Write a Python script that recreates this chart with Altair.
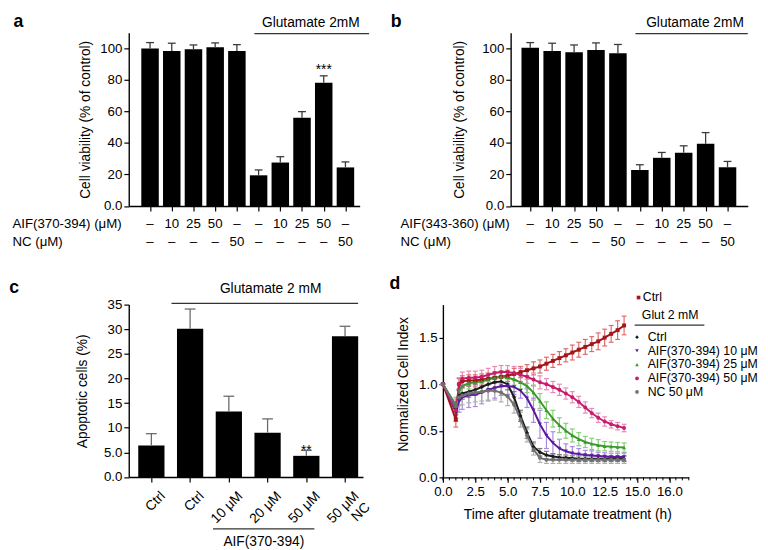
import altair as alt
import pandas as pd

FONT = "Liberation Sans"
SX, SY = 0.99, 0.985


def gx(v):
    return v * SX


def gy(v):
    return v * SY


# ---------------- panel a data ----------------
a_pos = [1, 2, 3, 4, 5, 6, 7, 8, 9, 10]
a_val = [100.0, 98.4, 99.4, 100.8, 98.4, 19.5, 27.6, 56.0, 78.3, 24.5]
a_cap = [103.7, 103.3, 102.2, 103.5, 102.4, 22.9, 31.3, 59.9, 82.6, 28.0]
a_aif = ["–", "10", "25", "50", "–", "–", "10", "25", "50", "–"]
a_nc = ["–", "–", "–", "–", "50", "–", "–", "–", "–", "50"]
a_star_pos = [9]
a_star_cap = [82.6]
a_star_txt = ["***"]

# ---------------- panel b data ----------------
b_pos = [1, 2, 3, 4, 5, 6, 7, 8, 9, 10]
b_val = [100.4, 98.4, 97.5, 99.0, 96.9, 22.8, 30.6, 33.8, 39.5, 24.6]
b_cap = [103.7, 103.3, 102.2, 103.5, 102.5, 26.2, 34.0, 38.2, 46.6, 28.3]
b_aif = ["–", "10", "25", "50", "–", "–", "10", "25", "50", "–"]
b_nc = ["–", "–", "–", "–", "50", "–", "–", "–", "–", "50"]

# ---------------- panel c data ----------------
c_pos = [1, 2, 3, 4, 5, 6]
c_lab = ["Ctrl", "Ctrl", "10 μM", "20 μM", "50 μM", "50 μM\nNC"]
c_val = [6.4, 30.1, 13.3, 9.0, 4.3, 28.6]
c_cap = [8.8, 34.1, 16.4, 11.8, 5.4, 30.6]
c_star_pos = [5]
c_star_cap = [5.4]
c_star_txt = ["**"]

# ---------------- panel d data ----------------
d_time = [0, 1.0, 1.25, 1.5, 2.0, 2.5, 3.0, 3.5, 4.0, 4.5, 5.0, 5.5, 6.0, 6.5, 7.0,
          7.5, 8.0, 8.5, 9.0, 9.5, 10.0, 10.5, 11.0, 11.5, 12.0, 12.5, 13.0, 13.5, 14.0]
d_series = ["Ctrl", "Glut Ctrl", "AIF(370-394) 10 μM", "AIF(370-394) 25 μM",
            "AIF(370-394) 50 μM", "NC 50 μM"]
d_ctrl = [1.0, 0.62, 1.0, 1.03, 1.04, 1.04, 1.05, 1.06, 1.07, 1.08, 1.09, 1.11, 1.13, 1.15, 1.17,
          1.19, 1.22, 1.25, 1.28, 1.31, 1.34, 1.37, 1.40, 1.43, 1.46, 1.50, 1.54, 1.58, 1.63]
d_ctrl_e = [0.0, 0.08, 0.06, 0.06, 0.06, 0.06, 0.06, 0.06, 0.06, 0.06, 0.06, 0.06, 0.06, 0.06, 0.07,
            0.07, 0.07, 0.07, 0.07, 0.07, 0.08, 0.08, 0.08, 0.08, 0.09, 0.09, 0.09, 0.10, 0.10]
d_glut = [1.0, 0.74, 0.88, 0.90, 0.92, 0.94, 0.97, 1.00, 1.02, 1.03, 1.00, 0.86, 0.66, 0.48, 0.33,
          0.27, 0.24, 0.225, 0.215, 0.21, 0.205, 0.20, 0.20, 0.20, 0.20, 0.20, 0.20, 0.20, 0.20]
d_glut_e = [0.0, 0.07, 0.06, 0.06, 0.06, 0.06, 0.06, 0.06, 0.06, 0.06, 0.06, 0.06, 0.06, 0.06, 0.05,
            0.04, 0.04, 0.03, 0.03, 0.03, 0.03, 0.03, 0.03, 0.03, 0.03, 0.03, 0.03, 0.03, 0.03]
d_a10 = [1.0, 0.70, 0.82, 0.86, 0.88, 0.89, 0.91, 0.94, 0.96, 0.98, 0.98, 0.97, 0.93, 0.85, 0.72,
         0.57, 0.45, 0.37, 0.31, 0.28, 0.26, 0.25, 0.24, 0.235, 0.23, 0.225, 0.22, 0.22, 0.22]
d_a10_e = [0.0, 0.10, 0.12, 0.13, 0.13, 0.13, 0.12, 0.12, 0.11, 0.10, 0.09, 0.08, 0.08, 0.10, 0.13,
           0.15, 0.14, 0.12, 0.10, 0.08, 0.07, 0.06, 0.05, 0.05, 0.04, 0.04, 0.04, 0.04, 0.04]
d_a25 = [1.0, 0.78, 0.93, 0.98, 1.01, 1.02, 1.03, 1.05, 1.07, 1.08, 1.07, 1.05, 1.02, 0.98, 0.91,
         0.82, 0.72, 0.63, 0.56, 0.50, 0.45, 0.41, 0.38, 0.36, 0.345, 0.335, 0.33, 0.325, 0.32]
d_a25_e = [0.0, 0.08, 0.07, 0.07, 0.06, 0.06, 0.06, 0.06, 0.06, 0.06, 0.06, 0.06, 0.07, 0.07, 0.08,
           0.08, 0.09, 0.09, 0.08, 0.08, 0.07, 0.07, 0.06, 0.06, 0.06, 0.05, 0.05, 0.05, 0.05]
d_a50 = [1.0, 0.72, 1.0, 1.06, 1.07, 1.07, 1.08, 1.10, 1.12, 1.13, 1.13, 1.12, 1.10, 1.08, 1.05,
         1.02, 1.00, 0.97, 0.94, 0.90, 0.86, 0.81, 0.75, 0.69, 0.64, 0.60, 0.57, 0.55, 0.53]
d_a50_e = [0.0, 0.08, 0.07, 0.07, 0.07, 0.07, 0.07, 0.07, 0.07, 0.07, 0.07, 0.07, 0.07, 0.07, 0.07,
           0.07, 0.06, 0.06, 0.06, 0.06, 0.06, 0.06, 0.06, 0.05, 0.05, 0.05, 0.04, 0.04, 0.04]
d_nc = [1.0, 0.76, 0.86, 0.88, 0.90, 0.91, 0.92, 0.93, 0.93, 0.91, 0.87, 0.78, 0.62, 0.45, 0.30,
        0.21, 0.19, 0.19, 0.19, 0.19, 0.19, 0.19, 0.19, 0.19, 0.19, 0.19, 0.19, 0.19, 0.19]
d_nc_e = [0.0, 0.08, 0.09, 0.10, 0.10, 0.10, 0.10, 0.10, 0.10, 0.10, 0.10, 0.09, 0.08, 0.07, 0.06,
          0.05, 0.04, 0.04, 0.04, 0.04, 0.04, 0.04, 0.04, 0.04, 0.04, 0.04, 0.04, 0.04, 0.04]
d_x_ticks = [0, 2.5, 5, 7.5, 10, 12.5, 15, 17.5]
d_y_ticks = [0, 0.5, 1.0, 1.5]

# ---------------- styles ----------------
D_LINE = ["#a3161a", "#1a1a1a", "#5b1a9e", "#3c9a2d", "#c81c6e", "#707070"]
D_ERR = ["#e06a6a", "#7a7a7a", "#a98ae0", "#86cf74", "#e58cb8", "#b0b0b0"]
D_SHAPE = ["square", "diamond", "triangle-down", "triangle-up", "circle", "circle"]

ONE = pd.DataFrame({"k": [0]})


def rel(pl, pt):
    return (lambda X: round(gx(X) - gx(pl), 2)), (lambda Y: round(gy(Y) - gy(pt), 2))


def anchor(box, rx, ry):
    l, t, r, b = box
    return alt.Chart(ONE).mark_rect(fill="white", opacity=0).encode(
        x=alt.value(rx(l)), x2=alt.value(rx(r)), y=alt.value(ry(t)), y2=alt.value(ry(b)))


def txt(s, X, Y, rx, ry, size=14, align="center", baseline="middle", weight="normal", color="black"):
    return alt.Chart(pd.DataFrame({"t": [s]})).mark_text(
        font=FONT, fontSize=size, align=align, baseline=baseline, fontWeight=weight, color=color
    ).encode(x=alt.value(rx(X)), y=alt.value(ry(Y)), text="t:N")


def hline(X1, X2, Y, rx, ry, color="#333", w=1.2):
    return alt.Chart(ONE).mark_rule(color=color, strokeWidth=w).encode(
        x=alt.value(rx(X1)), x2=alt.value(rx(X2)), y=alt.value(ry(Y)))


def bar_core(df, plot, xdom, bar_w, cap_w, err_color, ydom, yvals, ylabexpr, ytitle, ytitle_X):
    pl, pt, pr, pb = plot
    rx, ry = rel(pl, pt)
    W, H = rx(pr), ry(pb)
    xenc = alt.X("pos:Q", scale=alt.Scale(domain=xdom, nice=False, zero=False),
                 axis=alt.Axis(values=list(df["pos"]), labels=False, title=None, tickSize=5))
    ys = alt.Scale(domain=ydom, nice=False, zero=True)
    yax = alt.Axis(values=yvals, labelExpr=ylabexpr, title=ytitle, titleX=rx(ytitle_X),
                   titleY=H / 2, titleAngle=270, titleBaseline="middle", titleAlign="center",
                   tickSize=5)
    base = alt.Chart(df).encode(x=xenc)
    bars = base.mark_bar(size=bar_w, color="black").encode(y=alt.Y("val:Q", scale=ys, axis=yax))
    err = base.mark_rule(color=err_color, strokeWidth=1.3).encode(
        y=alt.Y("val:Q", scale=ys, axis=yax), y2="cap:Q")
    caps = base.mark_tick(orient="horizontal", color=err_color, thickness=1.3, size=cap_w,
                          opacity=1).encode(y=alt.Y("cap:Q", scale=ys, axis=yax))
    return dict(x=xenc, ys=ys, yax=yax, rx=rx, ry=ry, W=W, H=H, base=base, layers=[bars, err, caps])


ROW_FS = 13.5

# ================= panel a =================
PA_BOX = (0, 0, 384, 262)
PA_PLOT = (120.7, 18, 358.3, 197.3)
dfa = pd.DataFrame({"pos": a_pos, "val": a_val, "cap": a_cap, "aif": a_aif, "nc": a_nc})
A = bar_core(dfa, PA_PLOT, [0.245, 10.43], gx(18), 8, "#3a3a3a", [0, 110],
             [0, 20, 40, 60, 80, 100], "datum.value == 0 ? '0.0' : datum.label",
             "Cell viability (% of control)", 76.7)
rx, ry = A["rx"], A["ry"]
a_row1 = A["base"].mark_text(font=FONT, fontSize=ROW_FS, color="black").encode(
    y=alt.value(ry(216)), text="aif:N")
a_row2 = A["base"].mark_text(font=FONT, fontSize=ROW_FS, color="black").encode(
    y=alt.value(ry(235)), text="nc:N")
a_stars = alt.Chart(pd.DataFrame({"pos": a_star_pos, "cap": a_star_cap, "s": a_star_txt})).mark_text(
    font=FONT, fontSize=14, baseline="alphabetic", dy=-2, color="black").encode(
    x=A["x"], y=alt.Y("cap:Q", scale=A["ys"], axis=A["yax"]), text="s:N")
pa = alt.layer(
    anchor(PA_BOX, rx, ry), *A["layers"], a_row1, a_row2, a_stars,
    txt("AIF(370-394) (μM)", 1, 216, rx, ry, size=ROW_FS, align="left"),
    txt("NC (μM)", 1, 235, rx, ry, size=ROW_FS, align="left"),
    txt("Glutamate 2mM", 308, 8, rx, ry),
    hline(250, 368, 19, rx, ry),
    txt("a", 2, 7, rx, ry, size=18, align="left", weight="bold"),
).properties(width=A["W"], height=A["H"])

# ================= panel b =================
PB_BOX = (384, 0, 768, 262)
PB_PLOT = (512.3, 18, 756.3, 197.3)
dfb = pd.DataFrame({"pos": b_pos, "val": b_val, "cap": b_cap, "aif": b_aif, "nc": b_nc})
B = bar_core(dfb, PB_PLOT, [0.33, 10.7], gx(18), 8, "#3a3a3a", [0, 110],
             [0, 20, 40, 60, 80, 100], "datum.value == 0 ? '0.0' : datum.label",
             "Cell viability (% of control)", 460)
rx, ry = B["rx"], B["ry"]
b_row1 = B["base"].mark_text(font=FONT, fontSize=ROW_FS, color="black").encode(
    y=alt.value(ry(216)), text="aif:N")
b_row2 = B["base"].mark_text(font=FONT, fontSize=ROW_FS, color="black").encode(
    y=alt.value(ry(235)), text="nc:N")
pb = alt.layer(
    anchor(PB_BOX, rx, ry), *B["layers"], b_row1, b_row2,
    txt("AIF(343-360) (μM)", 399, 216, rx, ry, size=ROW_FS, align="left"),
    txt("NC (μM)", 399, 235, rx, ry, size=ROW_FS, align="left"),
    txt("Glutamate 2mM", 702, 8, rx, ry),
    hline(640.7, 756.3, 19, rx, ry),
    txt("b", 389, 7, rx, ry, size=18, align="left", weight="bold"),
).properties(width=B["W"], height=B["H"])

# ================= panel c =================
PC_BOX = (0, 262, 384, 550)
PC_PLOT = (124, 294, 365, 472.3)
dfc = pd.DataFrame({"pos": c_pos, "val": c_val, "cap": c_cap, "lab": c_lab})
C = bar_core(dfc, PC_PLOT, [0.543, 6.336], gx(27), 11, "#6a6a6a", [0, 35],
             [0, 5, 10, 15, 20, 25, 30, 35],
             "datum.value < 10 ? format(datum.value, '.1f') : datum.label",
             "Apoptotic cells (%)", 77)
rx, ry = C["rx"], C["ry"]
c_labels = C["base"].mark_text(font=FONT, fontSize=14, color="black", angle=315, align="right",
                               baseline="top", dx=5, dy=5, lineBreak="\n").encode(
    y=alt.value(ry(485)), text="lab:N")
c_stars = alt.Chart(pd.DataFrame({"pos": c_star_pos, "cap": c_star_cap, "s": c_star_txt})).mark_text(
    font=FONT, fontSize=14, baseline="alphabetic", dy=5, color="black").encode(
    x=C["x"], y=alt.Y("cap:Q", scale=C["ys"], axis=C["yax"]), text="s:N")
pc = alt.layer(
    anchor(PC_BOX, rx, ry), *C["layers"], c_labels, c_stars,
    txt("Glutamate 2 mM", 270, 278, rx, ry),
    hline(168, 360, 292.7, rx, ry),
    hline(210.7, 315, 526, rx, ry),
    txt("AIF(370-394)", 263, 540, rx, ry),
    txt("c", 1, 277, rx, ry, size=18, align="left", weight="bold"),
).properties(width=C["W"], height=C["H"])

# ================= panel d =================
PD_BOX = (384, 262, 768, 550)
PD_PLOT = (446, 298, 699, 476.7)
rx, ry = rel(PD_PLOT[0], PD_PLOT[1])
WD, HD = rx(PD_PLOT[2]), ry(PD_PLOT[3])

vals = [d_ctrl, d_glut, d_a10, d_a25, d_a50, d_nc]
errs = [d_ctrl_e, d_glut_e, d_a10_e, d_a25_e, d_a50_e, d_nc_e]
rows = []
for s, vs, es in zip(d_series, vals, errs):
    assert len(vs) == len(d_time) and len(es) == len(d_time)
    for t, v, e in zip(d_time, vs, es):
        rows.append({"s": s, "t": t, "v": v, "lo": v - e, "hi": v + e})
dfd = pd.DataFrame(rows)

xs_d = alt.Scale(domain=[0, 19], nice=False, zero=False)
xax_d = alt.Axis(values=d_x_ticks,
                 labelExpr="datum.value == 17.5 ? '16.0' : format(datum.value, '.1f')",
                 labelFlush=False, labelOverlap=False, title="Time after glutamate treatment (h)",
                 titleX=rx(574), titleY=ry(515) - HD, titleBaseline="middle", tickSize=5)
ys_d = alt.Scale(domain=[0, 1.854], nice=False)
yax_d = alt.Axis(values=d_y_ticks, format=".1f", title="Normalized Cell Index",
                 titleX=rx(405.7), titleY=ry(380), titleAngle=270, titleBaseline="middle",
                 tickSize=4)


def XD(f):
    return alt.X(f, scale=xs_d, axis=xax_d)


def YD(f):
    return alt.Y(f, scale=ys_d, axis=yax_d)


ecol = alt.Color("s:N", scale=alt.Scale(domain=d_series, range=D_ERR), legend=None)
lcol = alt.Color("s:N", scale=alt.Scale(domain=d_series, range=D_LINE), legend=None)
shp = alt.Shape("s:N", scale=alt.Scale(domain=d_series, range=D_SHAPE), legend=None)
dd = alt.Chart(dfd)
d_eb = dd.mark_rule(strokeWidth=1.2).encode(x=XD("t:Q"), y=YD("lo:Q"), y2="hi:Q", color=ecol)
d_cl = dd.mark_tick(orient="horizontal", size=5, thickness=1.2, opacity=1).encode(
    x=XD("t:Q"), y=YD("lo:Q"), color=ecol)
d_ch = dd.mark_tick(orient="horizontal", size=5, thickness=1.2, opacity=1).encode(
    x=XD("t:Q"), y=YD("hi:Q"), color=ecol)
d_ln = dd.mark_line(strokeWidth=2).encode(x=XD("t:Q"), y=YD("v:Q"), color=lcol)
d_pt = dd.mark_point(filled=True, size=16, opacity=1).encode(
    x=XD("t:Q"), y=YD("v:Q"), color=lcol, shape=shp)

d_minor = [i * 0.5 for i in range(0, 39)]
d_mt = alt.Chart(pd.DataFrame({"t": d_minor})).mark_rule(color="black", strokeWidth=1).encode(
    x=XD("t:Q"), y=alt.value(HD), y2=alt.value(HD + 3))

# manual legend
leg_layers = []
LEG_Y = [290.7, 331.7, 345.7, 360, 374.3, 388.3]
for i, (s, ly) in enumerate(zip(d_series, LEG_Y)):
    mx = 647.3 if i == 0 else 645.7
    tx = 651.7 if i == 0 else 656.7
    label = "Ctrl" if i <= 1 else s
    leg_layers.append(
        alt.Chart(ONE).mark_point(shape=D_SHAPE[i], filled=True, size=14, opacity=1,
                                  color=D_LINE[i]).encode(
            x=alt.value(rx(mx)), y=alt.value(ry(ly))))
    leg_layers.append(txt(label, tx, ly, rx, ry, size=12.5, align="left"))

pdp = alt.layer(
    anchor(PD_BOX, rx, ry), d_eb, d_cl, d_ch, d_ln, d_pt, d_mt, *leg_layers,
    txt("Glut 2 mM", 650.7, 309.3, rx, ry, size=12.5, align="left"),
    hline(643.3, 715, 319.3, rx, ry),
    txt("d", 391, 277, rx, ry, size=18, align="left", weight="bold"),
).resolve_scale(color="independent", shape="independent").properties(width=WD, height=HD)

chart = alt.vconcat(
    alt.hconcat(pa, pb, spacing=0),
    alt.hconcat(pc, pdp, spacing=0),
    spacing=0,
).properties(padding=0).configure_view(stroke=None).configure_axis(
    domainColor="black", domainWidth=1.4, tickColor="black", tickWidth=1.2,
    labelColor="black", titleColor="black", labelFont=FONT, labelFontSize=13.5,
    titleFont=FONT, titleFontSize=14, titleFontWeight="normal", grid=False, labelPadding=2,
)

chart.save("out.html", embed_options={"renderer": "svg", "actions": False})
